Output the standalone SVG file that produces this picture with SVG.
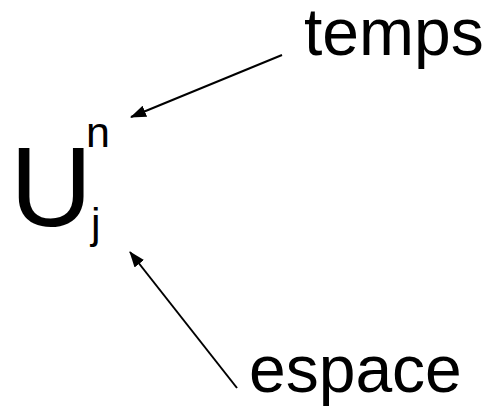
<svg xmlns="http://www.w3.org/2000/svg" width="495" height="418" viewBox="0 0 495 418">
  <style>
    text { font-family: "Liberation Sans", Arial, sans-serif; fill: #000; }
    .label { font-size: 66px; }
    .conn { stroke: #000; stroke-width: 2; fill: none; marker-end: url(#head); }
  </style>
  <defs>
    <!-- filled triangular arrowhead, drawn in user units -->
    <marker id="head" viewBox="0 0 16 12" refX="15" refY="6" markerWidth="16" markerHeight="12" markerUnits="userSpaceOnUse" orient="auto">
      <path d="M0,0 L16,6 L0,12 z" fill="#000"/>
    </marker>
  </defs>
  <rect width="495" height="418" fill="#fff"/>
  <g id="symbol">
    <text x="10" y="226" font-size="114">U</text>
    <text x="86" y="147" font-size="43">n</text>
    <text x="91" y="238" font-size="43">j</text>
  </g>
  <g id="temps">
    <text class="label" x="304" y="55">temps</text>
  </g>
  <g id="espace">
    <text class="label" x="249" y="392">espace</text>
  </g>
  <g id="connectors">
    <path class="conn" d="M282,55 L131,117"/>
    <path class="conn" d="M237,388 L130,252"/>
  </g>
</svg>
